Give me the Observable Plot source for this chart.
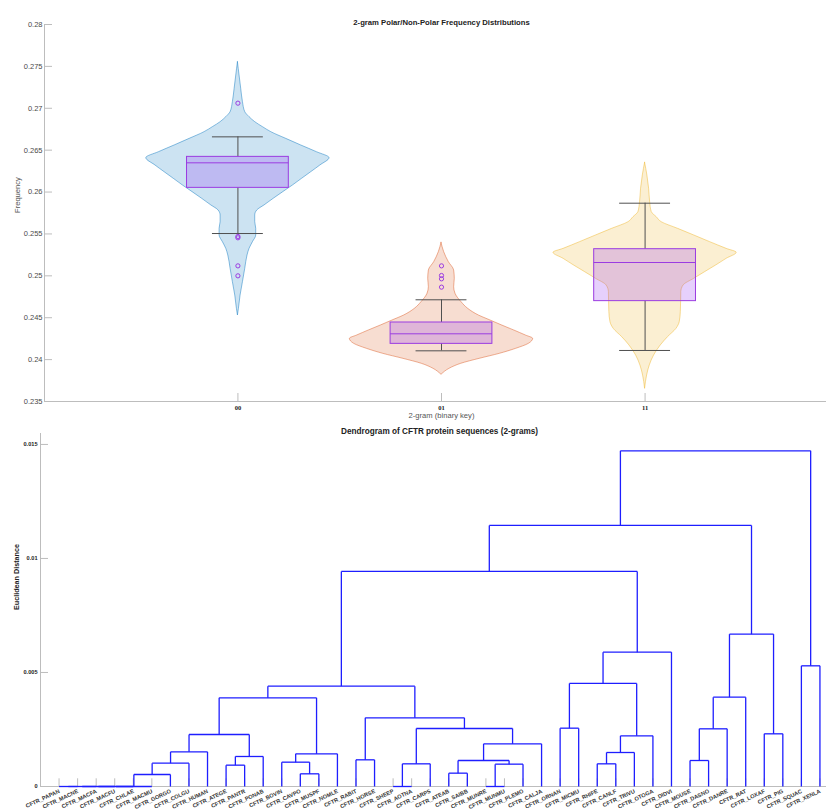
<!DOCTYPE html>
<html>
<head>
<meta charset="utf-8">
<script src="https://cdn.jsdelivr.net/npm/d3@7"></script>
<script src="https://cdn.jsdelivr.net/npm/@observablehq/plot@0.6"></script>
<style>
html, body { margin: 0; padding: 0; overflow: hidden; background: #fff; }
#wrap { position: relative; width: 826px; height: 812px; overflow: hidden; background: #fff; }
#wrap svg { position: absolute; left: 0; }
</style>
</head>
<body>
<div id="wrap"></div>
<script>
// ---------------- Top panel data ----------------
const topTitle = "2-gram Polar/Non-Polar Frequency Distributions";
const topXLabel = "2-gram (binary key)";
const topYLabel = "Frequency";
const categories = ["00", "01", "11"];
const categoryPositions = [1, 2, 3];
const topXDomain = [0.05, 3.95];
const topYDomain = [0.235, 0.28];
const topYTicks = [0.235, 0.24, 0.245, 0.25, 0.255, 0.26, 0.265, 0.27, 0.275, 0.28];

// violin outlines: values and relative density (1 = widest)
const violin00Values = [0.27550,0.27391,0.27232,0.27073,0.26954,0.26894,0.26834,0.26775,0.26715,0.26635,0.26556,0.26476,0.26405,0.26317,0.26237,0.26158,0.26078,0.25999,0.25919,0.25840,0.25780,0.25720,0.25641,0.25561,0.25482,0.25402,0.25322,0.25243,0.25084,0.24925,0.24765,0.24606,0.24527];
const violin00Density = [0,0.018,0.036,0.055,0.08,0.127,0.189,0.273,0.364,0.527,0.691,0.862,1,0.9,0.8,0.7,0.6,0.495,0.39,0.29,0.211,0.189,0.189,0.2,0.2,0.164,0.127,0.105,0.08,0.055,0.029,0.011,0];
const violin01Values = [0.25394,0.25283,0.25163,0.25064,0.24964,0.24865,0.24785,0.24686,0.24606,0.24527,0.24467,0.24407,0.24348,0.24288,0.24248,0.24188,0.24129,0.24069,0.24009,0.23950,0.23890,0.23818];
const violin01Density = [0,0.029,0.08,0.138,0.145,0.138,0.153,0.218,0.291,0.407,0.535,0.662,0.793,0.92,1,0.953,0.815,0.636,0.415,0.215,0.087,0];
const violin11Values = [0.26349,0.26198,0.26039,0.25879,0.25760,0.25700,0.25641,0.25561,0.25482,0.25402,0.25322,0.25275,0.25203,0.25123,0.25044,0.24964,0.24885,0.24805,0.24686,0.24566,0.24447,0.24367,0.24268,0.24169,0.24049,0.23930,0.23811,0.23651];
const violin11Density = [0,0.025,0.044,0.055,0.073,0.127,0.18,0.36,0.535,0.71,0.89,1,0.89,0.775,0.655,0.535,0.42,0.395,0.393,0.39,0.378,0.342,0.25,0.171,0.098,0.051,0.022,0];

// box statistics
const boxQ1 = [0.26050, 0.24188, 0.24698];
const boxMedian = [0.26349, 0.24308, 0.25159];
const boxQ3 = [0.26420, 0.24443, 0.25318];
const whiskerLow = [0.25505, 0.24105, 0.24109];
const whiskerHigh = [0.26659, 0.24714, 0.25867];
const outlierCategory = ["00", "00", "00", "00", "00", "01", "01", "01", "01"];
const outlierValues = [0.27061, 0.25470, 0.25454, 0.25119, 0.25000, 0.25119, 0.25004, 0.24964, 0.24865];

// ---------------- Dendrogram data ----------------
const dendroTitle = "Dendrogram of CFTR protein sequences (2-grams)";
const dendroYLabel = "Euclidean Distance";
const leafNames = ["CFTR_PAPAN","CFTR_MACNE","CFTR_MACFA","CFTR_MACFU","CFTR_CHLAE","CFTR_MACMU","CFTR_GORGO","CFTR_COLGU","CFTR_HUMAN","CFTR_ATEGE","CFTR_PANTR","CFTR_PONAB","CFTR_BOVIN","CFTR_CAVPO","CFTR_MUSPF","CFTR_NOMLE","CFTR_RABIT","CFTR_HORSE","CFTR_SHEEP","CFTR_AOTNA","CFTR_CARPS","CFTR_ATEAB","CFTR_SAIBB","CFTR_MUNRE","CFTR_MUNMU","CFTR_PLEMO","CFTR_CALJA","CFTR_ORNAN","CFTR_MICMU","CFTR_RHIFE","CFTR_CANLF","CFTR_TRIVU","CFTR_OTOGA","CFTR_DIDVI","CFTR_MOUSE","CFTR_DASNO","CFTR_DANRE","CFTR_RAT","CFTR_LOXAF","CFTR_PIG","CFTR_SQUAC","CFTR_XENLA"];
// linkage: node ids 1..42 are leaves (display order), merges create ids 43, 44, ...
const mergeLeft = [1,43,44,45,46,19,24,47,14,22,10,49,48,30,50,13,52,35,17,53,58,56,57,59,64,65,39,60,55,28,61,68,70,74,72,41,77,75,76,81,82];
const mergeRight = [2,3,4,5,6,20,25,7,15,23,11,26,21,31,8,51,54,36,18,12,16,32,9,27,33,62,40,37,66,29,71,63,38,73,67,42,34,69,79,80,78];
const mergeHeight = [0,0,0,0,0,0,0,0.000526,0.000556,0.000585,0.000936,0.00098,0.000994,0.000994,0.001023,0.001067,0.00114,0.00114,0.00117,0.001316,0.001433,0.001491,0.00152,0.001871,0.002222,0.002281,0.00231,0.002529,0.002544,0.002558,0.003012,0.003889,0.003918,0.0044,0.004518,0.005292,0.005892,0.006681,0.00943,0.011447,0.014722];
const dendroXDomain = [0, 43];
const dendroYDomain = [0, 0.01548];
const dendroYTicks = [0, 0.005, 0.01, 0.015];

// ---------------- styles ----------------
const FONT = "Liberation Sans, Arial, Helvetica, sans-serif";
const axisGray = "#bdbdbd";
const violinColors = ["rgb(0,114,189)", "rgb(217,83,25)", "rgb(237,177,32)"];
const boxFill = "rgb(140,40,240)";
const boxStroke = "rgb(155,60,225)";
const whiskerColor = "#505050";
const dendroBlue = "rgb(30,30,255)";
const VIOLIN_HALF = 0.45, BOX_HALF = 0.25, CAP_HALF = 0.125;

// ---------------- build tables ----------------
const violinSeries = [
  [violin00Values, violin00Density],
  [violin01Values, violin01Density],
  [violin11Values, violin11Density]
].map(([vals, dens], k) => vals.map((v, j) => ({pos: categoryPositions[k], v, d: dens[j]})));

const boxRows = categories.map((c, k) => ({
  cat: c, pos: categoryPositions[k],
  q1: boxQ1[k], med: boxMedian[k], q3: boxQ3[k], lo: whiskerLow[k], hi: whiskerHigh[k]
}));
const outlierRows = outlierValues.map((v, i) => ({pos: categoryPositions[categories.indexOf(outlierCategory[i])], v}));

const yFmtTop = d => String(+d.toFixed(3));

const topMarks = [
  Plot.ruleX([topXDomain[0]], {stroke: axisGray}),
  Plot.ruleY([topYDomain[0]], {stroke: axisGray}),
  Plot.axisY({ticks: topYTicks, tickSize: 8, dx: 8, fill: "none", stroke: axisGray, label: null}),
  Plot.axisY({ticks: topYTicks, tickSize: 0, tickPadding: 2, stroke: "none", fill: "#4a4a4a", tickFormat: yFmtTop, fontSize: 7.5, label: null}),
  Plot.axisX({ticks: categoryPositions, tickSize: 8, dy: -8, fill: "none", stroke: axisGray, label: null}),
  Plot.axisX({ticks: categoryPositions, tickSize: 0, tickPadding: 4, stroke: "none", fill: "#222", tickFormat: p => categories[categoryPositions.indexOf(p)], fontFamily: "Liberation Serif, Times New Roman, serif", fontWeight: "bold", fontSize: 6.5, label: null})
];
violinSeries.forEach((rows, k) => {
  topMarks.push(Plot.areaX(rows, {
    y: "v",
    x1: r => r.pos - VIOLIN_HALF * r.d,
    x2: r => r.pos + VIOLIN_HALF * r.d,
    curve: "monotone-y",
    fill: violinColors[k], fillOpacity: 0.2,
    stroke: violinColors[k], strokeOpacity: 0.5, strokeWidth: 0.9
  }));
});
topMarks.push(
  Plot.ruleX(boxRows, {x: "pos", y1: "q3", y2: "hi", stroke: whiskerColor, strokeWidth: 1}),
  Plot.ruleX(boxRows, {x: "pos", y1: "lo", y2: "q1", stroke: whiskerColor, strokeWidth: 1}),
  Plot.ruleY(boxRows, {y: "hi", x1: r => r.pos - CAP_HALF, x2: r => r.pos + CAP_HALF, stroke: whiskerColor, strokeWidth: 1}),
  Plot.ruleY(boxRows, {y: "lo", x1: r => r.pos - CAP_HALF, x2: r => r.pos + CAP_HALF, stroke: whiskerColor, strokeWidth: 1}),
  Plot.rect(boxRows, {x1: r => r.pos - BOX_HALF, x2: r => r.pos + BOX_HALF, y1: "q1", y2: "q3", fill: boxFill, fillOpacity: 0.22, stroke: boxStroke, strokeWidth: 1}),
  Plot.ruleY(boxRows, {y: "med", x1: r => r.pos - BOX_HALF, x2: r => r.pos + BOX_HALF, stroke: boxStroke, strokeWidth: 1}),
  Plot.dot(outlierRows, {x: "pos", y: "v", r: 2.1, stroke: boxStroke, strokeWidth: 1, fill: "none"}),
  Plot.text([topTitle], {text: d => d, frameAnchor: "top", dy: -5, fontWeight: "bold", fontSize: 7.7, fill: "#222"}),
  Plot.text([topXLabel], {text: d => d, frameAnchor: "bottom", dy: 16.6, fontSize: 7.6, fill: "#555"}),
  Plot.text([topYLabel], {text: d => d, frameAnchor: "left", dx: -27.3, rotate: -90, fontSize: 7.6, fill: "#555"})
);

const topChart = Plot.plot({
  width: 838, height: 421,
  marginLeft: 44, marginRight: 0, marginTop: 24, marginBottom: 20,
  style: {fontFamily: FONT, background: "white"},
  x: {domain: topXDomain},
  y: {domain: topYDomain},
  marks: topMarks
});

// ---------------- dendrogram geometry ----------------
const nodeX = {}, nodeH = {};
leafNames.forEach((n, i) => { nodeX[i + 1] = i + 1; nodeH[i + 1] = 0; });
const segments = [];
mergeLeft.forEach((l, k) => {
  const r = mergeRight[k], h = mergeHeight[k], id = leafNames.length + 1 + k;
  nodeX[id] = (nodeX[l] + nodeX[r]) / 2;
  nodeH[id] = h;
  segments.push({x1: nodeX[l], y1: nodeH[l], x2: nodeX[l], y2: h});
  segments.push({x1: nodeX[l], y1: h, x2: nodeX[r], y2: h});
  segments.push({x1: nodeX[r], y1: h, x2: nodeX[r], y2: nodeH[r]});
});
const leafPositions = leafNames.map((n, i) => i + 1);

const dendroChart = Plot.plot({
  width: 838, height: 391,
  marginLeft: 40, marginRight: 0, marginTop: 12, marginBottom: 26,
  style: {fontFamily: FONT, background: "white"},
  x: {domain: dendroXDomain},
  y: {domain: dendroYDomain},
  marks: [
    Plot.ruleX([dendroXDomain[0]], {stroke: axisGray}),
    Plot.ruleY([dendroYDomain[0]], {stroke: axisGray}),
    Plot.axisY({ticks: dendroYTicks, tickSize: 8, dx: 8, fill: "none", stroke: axisGray, label: null}),
    Plot.axisY({ticks: dendroYTicks, tickSize: 0, tickPadding: 3, stroke: "none", fill: "#222", fontWeight: "bold", fontSize: 5.6, tickFormat: d => d === 0 ? "0" : String(d), label: null}),
    Plot.axisX({ticks: leafPositions, tickSize: 7.7, dy: -7.7, fill: "none", stroke: axisGray, label: null}),
    Plot.link(segments, {x1: "x1", y1: "y1", x2: "x2", y2: "y2", stroke: dendroBlue, strokeWidth: 1.3}),
    Plot.text(leafNames, {x: (d, i) => leafPositions[i], text: d => d, frameAnchor: "bottom", rotate: -25, textAnchor: "end", dx: 1, dy: 6, fontSize: 5.6, fontWeight: "bold", fill: "#333"}),
    Plot.text([dendroTitle], {text: d => d, frameAnchor: "top", dy: -5.3, fontWeight: "bold", fontSize: 8.2, fill: "#222"}),
    Plot.text([dendroYLabel], {text: d => d, frameAnchor: "left", dx: -24, rotate: -90, fontWeight: "bold", fontSize: 7.2, fill: "#222"})
  ]
});

const wrap = document.getElementById("wrap");
[[topChart, 0, 421], [dendroChart, 421, 391]].forEach(([svg, top, h]) => {
  svg.style.position = "absolute";
  svg.style.top = top + "px";
  svg.style.left = "0px";
  svg.style.maxWidth = "none";
  svg.style.width = "838px";
  svg.style.height = h + "px";
  wrap.appendChild(svg);
});
</script>
</body>
</html>
